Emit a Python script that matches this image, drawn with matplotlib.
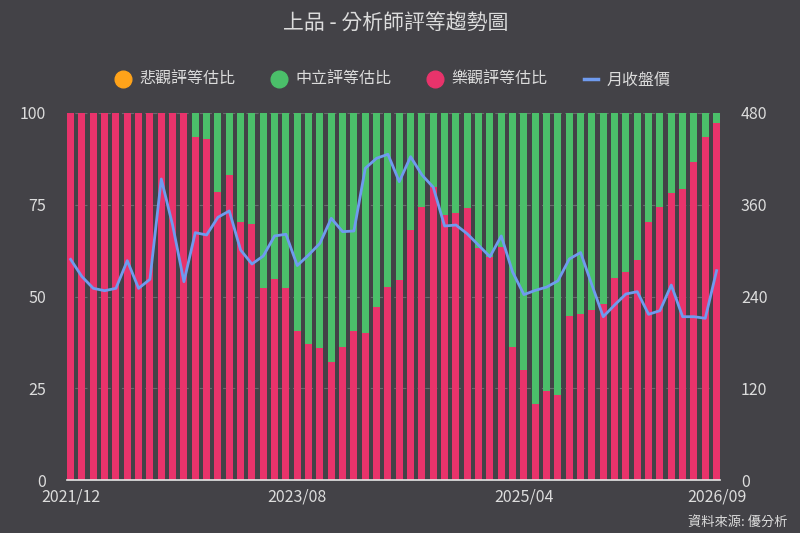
import matplotlib
matplotlib.use('Agg')
import matplotlib.pyplot as plt
from matplotlib.lines import Line2D
import numpy as np
import pandas as pd

plt.rcParams['font.family'] = ['Noto Sans CJK TC', 'DejaVu Sans']

# monthly categories, 2021/12 .. 2026/09
months = pd.period_range('2021-12', periods=58, freq='M').strftime('%Y/%m').tolist()
tick_labels = ['2021/12', '2023/08', '2025/04', '2026/09']

# share of ratings (%)
optimistic = [100, 100, 100, 100, 100, 100, 100, 100, 100, 100, 100,
              93.5, 92.9, 78.6, 83.1, 70.4, 69.7, 52.2, 54.7, 52.2,
              40.5, 37.0, 35.9, 32.2, 36.3, 40.7, 40.1, 47.2, 52.5, 54.4,
              68.1, 74.3, 79.9, 72.2, 72.8, 74.0, 63.1, 60.9, 63.6, 36.3,
              30.1, 20.7, 24.3, 23.2, 44.6, 45.3, 46.3, 48.0, 55.1, 56.6,
              59.9, 70.3, 74.3, 78.3, 79.2, 86.6, 93.4, 97.2]
pessimistic = [0] * len(optimistic)
neutral = [100 - o - p for o, p in zip(optimistic, pessimistic)]

# monthly close price
price = [288.6, 266.0, 250.7, 247.6, 250.7, 286.9, 250.7, 262.5, 393.7, 333.5,
         259.4, 323.5, 320.5, 343.6, 351.9, 300.8, 282.5, 293.0, 319.2, 321.4,
         280.5, 294.3, 309.6, 342.3, 324.8, 325.7, 407.7, 420.8, 426.0, 390.2,
         422.9, 399.0, 382.9, 332.2, 333.5, 322.0, 307.0, 292.0, 319.2, 272.0,
         242.5, 248.0, 252.3, 260.5, 289.0, 297.5, 255.0, 213.6, 228.9, 243.3,
         246.3, 216.7, 221.5, 255.0, 213.6, 213.6, 211.5, 273.8]

bg = '#434247'
c_pess = '#ffa31a'
c_neu = '#4bbf6a'
c_opt = '#e8336b'
c_line = '#6f9bef'
txt = '#dcdcdc'

x = np.arange(len(months))

fig = plt.figure(figsize=(8, 5.33), dpi=100, facecolor=bg)
ax = fig.add_axes([0.084, 0.0994, 0.816, 0.6886], facecolor=bg)

ax.bar(x, optimistic, width=0.62, color=c_opt, zorder=2)
ax.bar(x, neutral, width=0.62, bottom=optimistic, color=c_neu, zorder=2)
ax.bar(x, pessimistic, width=0.62, bottom=[o + n for o, n in zip(optimistic, neutral)],
       color=c_pess, zorder=2)

ax.set_ylim(0, 100)
ax.set_yticks([0, 25, 50, 75, 100])
ax.set_xlim(-0.3, len(months) - 0.7)
ax.set_xticks([months.index(t) for t in tick_labels])
ax.set_xticklabels(tick_labels)
ax.yaxis.grid(True, color='#6a6a6e', linestyle=(0, (4, 3)), linewidth=0.8)
ax.set_axisbelow(True)
for s in ['top', 'right', 'left']:
    ax.spines[s].set_visible(False)
ax.spines['bottom'].set_color('#e6e6e6')
ax.spines['bottom'].set_linewidth(1.2)
ax.spines['bottom'].set_zorder(5)
ax.tick_params(axis='y', length=0, pad=15, labelsize=11.5, labelcolor=txt)
ax.tick_params(axis='x', length=0, pad=6, labelsize=11.5, labelcolor=txt)

ax2 = ax.twinx()
ax2.plot(x, price, color=c_line, linewidth=2.0, zorder=3)
ax2.set_ylim(0, 480)
ax2.set_yticks([0, 120, 240, 360, 480])
for s in ax2.spines.values():
    s.set_visible(False)
ax2.tick_params(axis='y', length=0, pad=15, labelsize=11.5, labelcolor=txt)

fig.text(0.495, 0.958, '上品 - 分析師評等趨勢圖', ha='center', va='center',
         fontsize=15, color=txt)

handles = [
    Line2D([], [], linestyle='none', marker='o', markersize=12, color=c_pess),
    Line2D([], [], linestyle='none', marker='o', markersize=12, color=c_neu),
    Line2D([], [], linestyle='none', marker='o', markersize=12, color=c_opt),
    Line2D([], [], color=c_line, linewidth=2.5),
]
labels = ['悲觀評等估比', '中立評等估比', '樂觀評等估比', '月收盤價']
fig.legend(handles, labels, loc='center', bbox_to_anchor=(0.492, 0.85), ncol=4,
           frameon=False, fontsize=11.5, labelcolor=txt, handlelength=0.9,
           handletextpad=0.55, columnspacing=2.3)

fig.text(0.984, 0.02, '資料來源: 優分析', ha='right', va='center', fontsize=9.5, color=txt)

fig.savefig('out.png', dpi=100, facecolor=bg)
